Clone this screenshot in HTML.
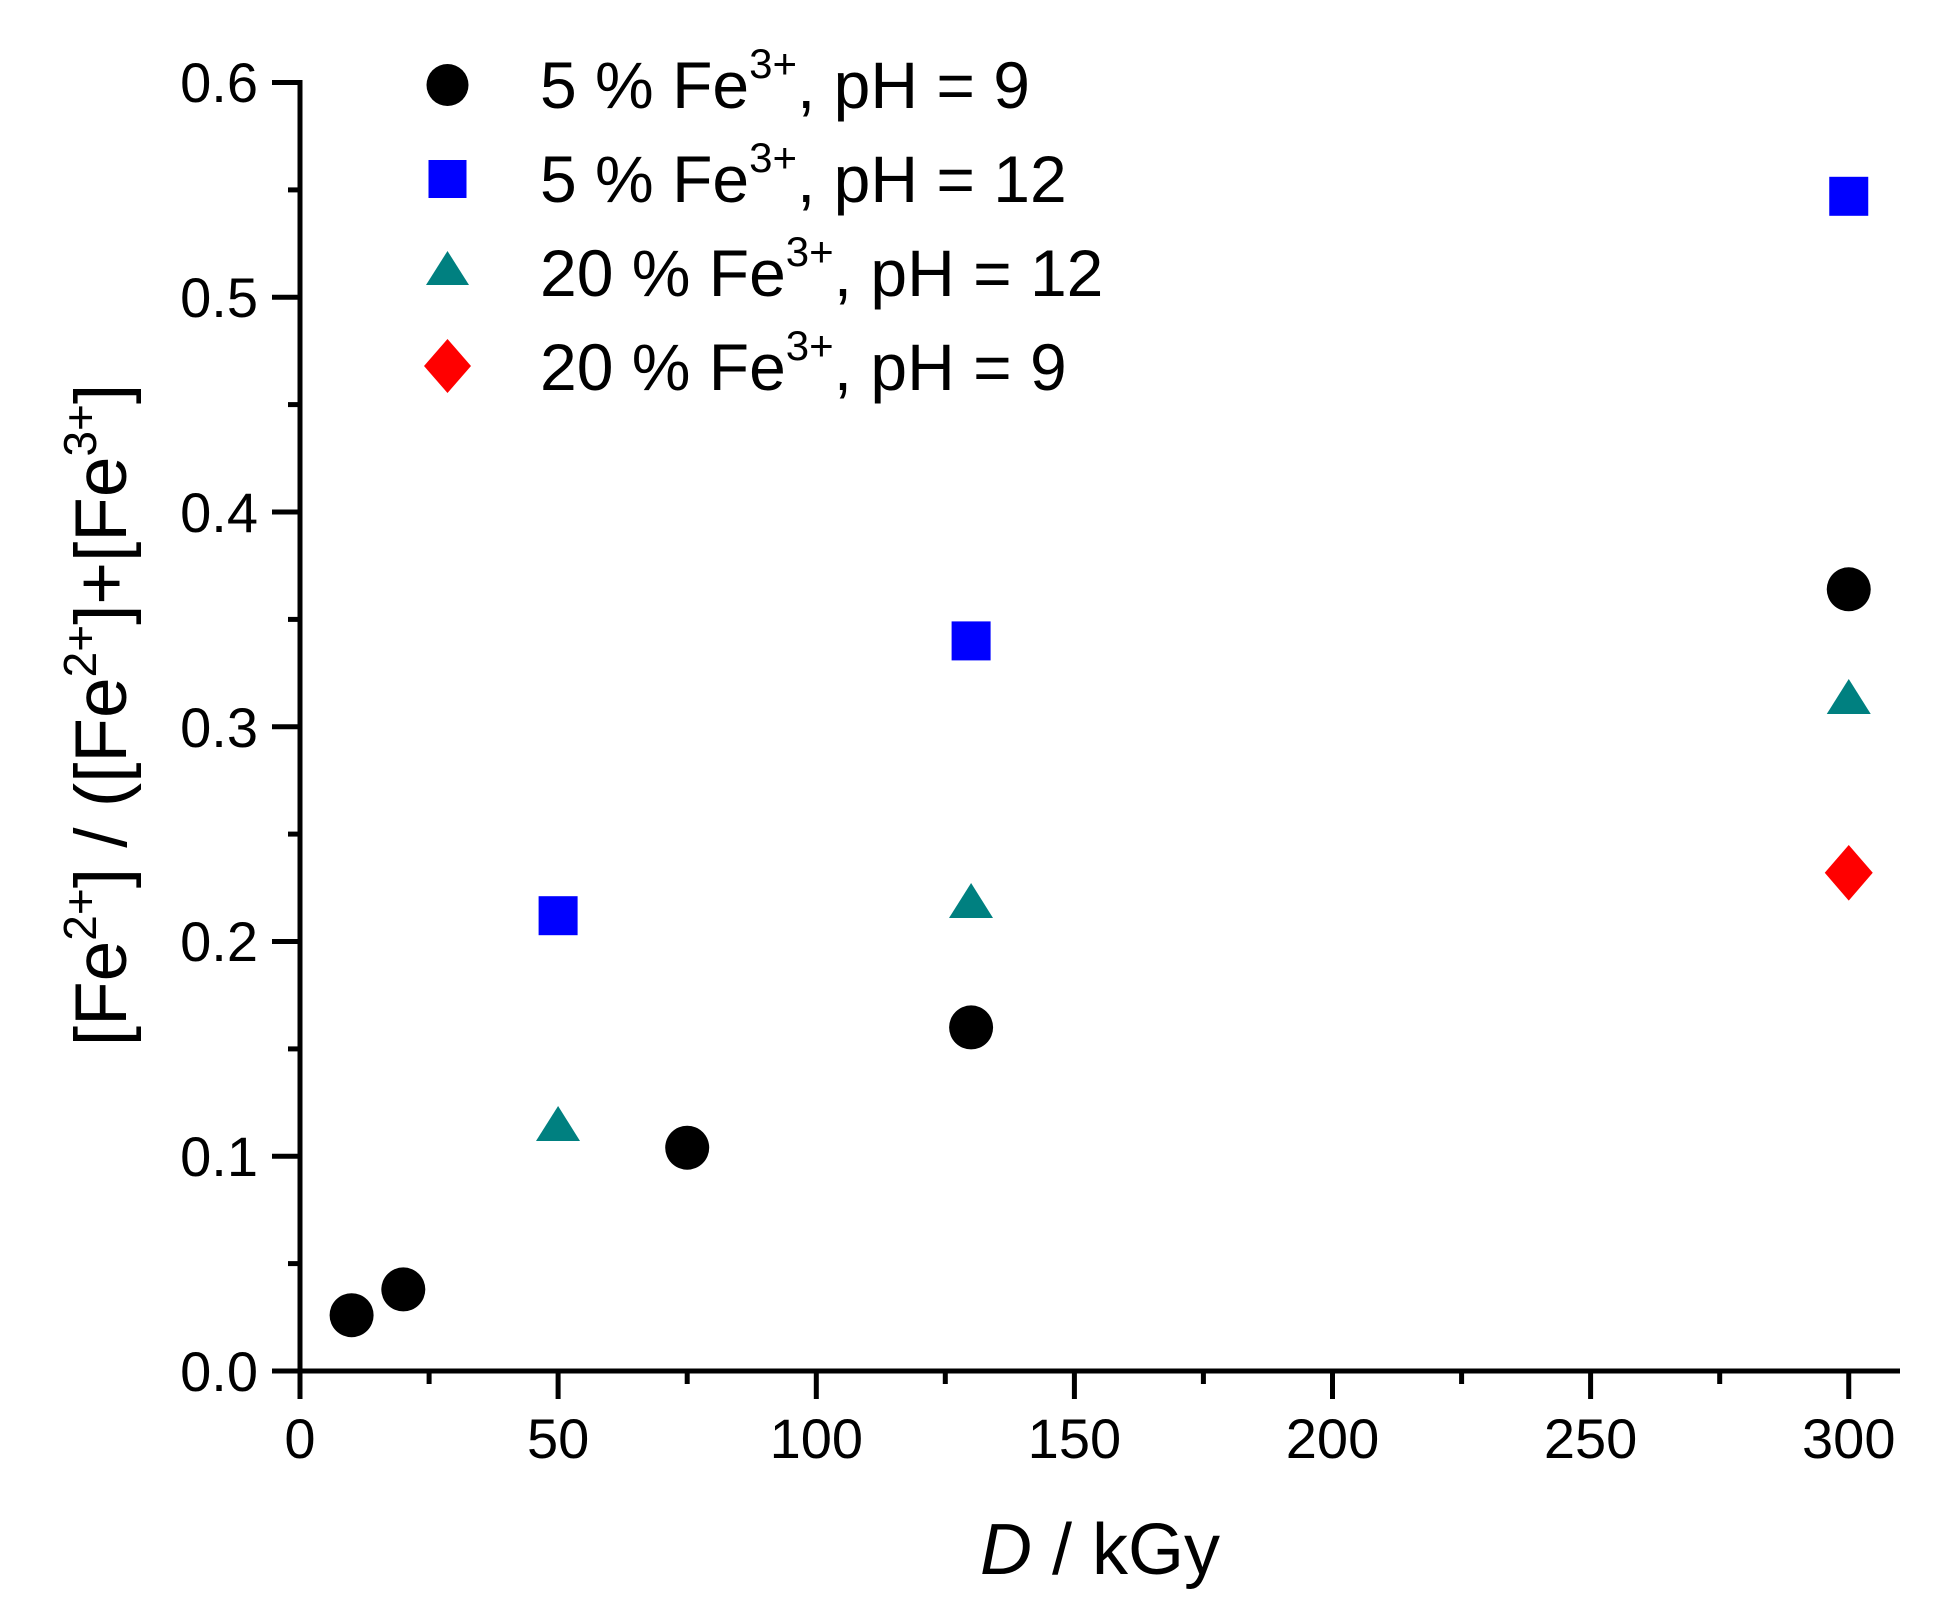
<!DOCTYPE html>
<html><head><style>body{margin:0;background:#fff}svg{display:block}text{font-family:"Liberation Sans",Arial,sans-serif;fill:#000}</style></head>
<body>
<svg width="1960" height="1623" viewBox="0 0 1960 1623" xmlns="http://www.w3.org/2000/svg">
<g stroke="#000" stroke-width="5">
<line x1="300" y1="80" x2="300" y2="1373"/>
<line x1="297.5" y1="1371" x2="1900" y2="1371"/>
<line x1="272" y1="1371" x2="300" y2="1371"/><line x1="288" y1="1263.6" x2="300" y2="1263.6"/>
<line x1="272" y1="1156.25" x2="300" y2="1156.25"/><line x1="288" y1="1048.9" x2="300" y2="1048.9"/>
<line x1="272" y1="941.5" x2="300" y2="941.5"/><line x1="288" y1="834.1" x2="300" y2="834.1"/>
<line x1="272" y1="726.75" x2="300" y2="726.75"/><line x1="288" y1="619.4" x2="300" y2="619.4"/>
<line x1="272" y1="512" x2="300" y2="512"/><line x1="288" y1="404.6" x2="300" y2="404.6"/>
<line x1="272" y1="297.25" x2="300" y2="297.25"/><line x1="288" y1="189.9" x2="300" y2="189.9"/>
<line x1="272" y1="82.5" x2="300" y2="82.5"/>
<line x1="300" y1="1371" x2="300" y2="1399"/><line x1="429.1" y1="1371" x2="429.1" y2="1384"/>
<line x1="558.1" y1="1371" x2="558.1" y2="1399"/><line x1="687.2" y1="1371" x2="687.2" y2="1384"/>
<line x1="816.3" y1="1371" x2="816.3" y2="1399"/><line x1="945.3" y1="1371" x2="945.3" y2="1384"/>
<line x1="1074.4" y1="1371" x2="1074.4" y2="1399"/><line x1="1203.4" y1="1371" x2="1203.4" y2="1384"/>
<line x1="1332.5" y1="1371" x2="1332.5" y2="1399"/><line x1="1461.6" y1="1371" x2="1461.6" y2="1384"/>
<line x1="1590.6" y1="1371" x2="1590.6" y2="1399"/><line x1="1719.7" y1="1371" x2="1719.7" y2="1384"/>
<line x1="1848.75" y1="1371" x2="1848.75" y2="1399"/>
</g>
<g font-size="56" text-anchor="end">
<text x="258" y="1391">0.0</text><text x="258" y="1176">0.1</text><text x="258" y="961">0.2</text>
<text x="258" y="747">0.3</text><text x="258" y="532">0.4</text><text x="258" y="317">0.5</text><text x="258" y="102">0.6</text>
</g>
<g font-size="56" text-anchor="middle">
<text x="300" y="1458">0</text><text x="558.1" y="1458">50</text><text x="816.3" y="1458">100</text>
<text x="1074.4" y="1458">150</text><text x="1332.5" y="1458">200</text><text x="1590.6" y="1458">250</text><text x="1848.75" y="1458">300</text>
</g>
<text x="1100" y="1574" font-size="72" text-anchor="middle"><tspan font-style="italic">D</tspan> / kGy</text>
<text transform="translate(126,715) rotate(-90)" font-size="73" text-anchor="middle">[Fe<tspan font-size="46" dy="-30">2+</tspan><tspan dy="30">] / ([Fe</tspan><tspan font-size="46" dy="-30">2+</tspan><tspan dy="30">]+[Fe</tspan><tspan font-size="46" dy="-30">3+</tspan><tspan dy="30">]</tspan></text>
<circle cx="447.5" cy="85" r="21"/>
<rect x="428.5" y="160" width="38" height="38" fill="#0000ff"/>
<polygon points="447.5,251 469,285 426,285" fill="#008080"/>
<polygon points="447.5,339 471,366 447.5,393 424,366" fill="#ff0000"/>
<g font-size="66">
<text x="540" y="108">5 % Fe<tspan font-size="42" dy="-30">3+</tspan><tspan dy="30">, pH = 9</tspan></text>
<text x="540" y="202">5 % Fe<tspan font-size="42" dy="-30">3+</tspan><tspan dy="30">, pH = 12</tspan></text>
<text x="540" y="296">20 % Fe<tspan font-size="42" dy="-30">3+</tspan><tspan dy="30">, pH = 12</tspan></text>
<text x="540" y="390">20 % Fe<tspan font-size="42" dy="-30">3+</tspan><tspan dy="30">, pH = 9</tspan></text>
</g>
<g>
<circle cx="351.6" cy="1315.2" r="22"/><circle cx="403.3" cy="1289.4" r="22"/>
<circle cx="687.2" cy="1147.7" r="22"/><circle cx="971.1" cy="1027.4" r="22"/><circle cx="1848.75" cy="589.3" r="22"/>
</g>
<g fill="#0000ff">
<rect x="538.6" y="896.2" width="39" height="39"/><rect x="951.6" y="621.4" width="39" height="39"/><rect x="1829.25" y="176.8" width="39" height="39"/>
</g>
<g fill="#008080">
<polygon points="558.1,1106 580,1141 536,1141"/><polygon points="971.1,883 993,918 949,918"/><polygon points="1848.75,679 1870.75,714 1826.75,714"/>
</g>
<polygon points="1848.75,845 1872.75,872.8 1848.75,900.6 1824.75,872.8" fill="#ff0000"/>
</svg>
</body></html>
